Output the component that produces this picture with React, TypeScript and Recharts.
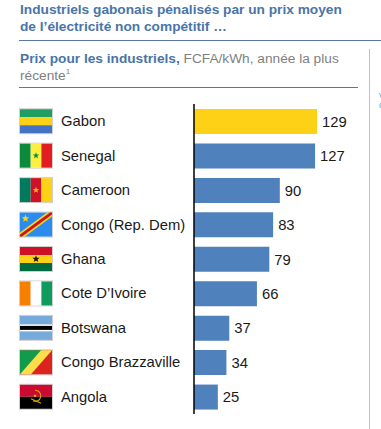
import React from "react";
import { BarChart, Bar, XAxis, YAxis, Cell, LabelList } from "recharts";

const countries = ["Gabon", "Senegal", "Cameroon", "Congo (Rep. Dem)", "Ghana", "Cote D’Ivoire", "Botswana", "Congo Brazzaville", "Angola"];
const prices = [129, 127, 90, 83, 79, 66, 37, 34, 25];
const highlighted = "Gabon";
const data = countries.map((country, i) => ({ country, price: prices[i] }));

const FONT = "'Liberation Sans', Arial, sans-serif";
const BLUE = "#4f81bd";
const HEAD = "#4a74a8";
const W = 32, H = 24;

const star = (cx: number, cy: number, r: number) => {
  const p: string[] = [];
  for (let i = 0; i < 10; i++) {
    const a = -Math.PI / 2 + (i * Math.PI) / 5;
    const q = i % 2 ? r * 0.42 : r;
    p.push(`${cx + q * Math.cos(a)},${cy + q * Math.sin(a)}`);
  }
  return p.join(" ");
};

function Flag({ name }: { name: string }) {
  const R = (x: number, y: number, w: number, h: number, fill: string) => <rect x={x} y={y} width={w} height={h} fill={fill} />;
  switch (name) {
    case "Gabon":
      return <>{R(0, 0, W, 8, "#1f9e62")}{R(0, 8, W, 8, "#fcd116")}{R(0, 16, W, 8, "#4472c4")}</>;
    case "Senegal":
      return <>{R(0, 0, 10.7, H, "#0b8a3c")}{R(10.7, 0, 10.7, H, "#fdef42")}{R(21.4, 0, 10.6, H, "#e31b23")}<polygon points={star(16, 12, 3.4)} fill="#0b8a3c" /></>;
    case "Cameroon":
      return <>{R(0, 0, 10.7, H, "#007a5e")}{R(10.7, 0, 10.7, H, "#ce1126")}{R(21.4, 0, 10.6, H, "#fcd116")}<polygon points={star(16, 12, 3.4)} fill="#fcb116" /></>;
    case "Congo (Rep. Dem)":
      return <>{R(0, 0, W, H, "#2b8cf0")}<polygon points="0,20 27,0 32,0 32,4 5,24 0,24" fill="#f7d618" /><polygon points="0,22 30,0 32,0 32,2 2,24 0,24" fill="#ce1021" /><polygon points={star(5.5, 6, 4)} fill="#f7d618" /></>;
    case "Ghana":
      return <>{R(0, 0, W, 8, "#ce1126")}{R(0, 8, W, 8, "#fcd116")}{R(0, 16, W, 8, "#006b3f")}<polygon points={star(16, 12, 3.8)} fill="#111" /></>;
    case "Cote D’Ivoire":
      return <>{R(0, 0, 10.7, H, "#f77f00")}{R(10.7, 0, 10.7, H, "#ffffff")}{R(21.4, 0, 10.6, H, "#0f9b5e")}</>;
    case "Botswana":
      return <>{R(0, 0, W, H, "#75aadb")}{R(0, 8.5, W, 7, "#ffffff")}{R(0, 10, W, 4, "#000000")}</>;
    case "Congo Brazzaville":
      return <>{R(0, 0, W, H, "#dc241f")}<polygon points="0,0 24,0 0,24" fill="#129b4a" /><polygon points="21,0 32,0 11,24 0,24" fill="#fbde4a" /></>;
    case "Angola":
      return <>{R(0, 0, W, 12, "#cc092f")}{R(0, 12, W, 12, "#000000")}<path d="M15 5.5 A5.5 5.5 0 1 1 13 16" fill="none" stroke="#d9a900" strokeWidth={1.1} /><polygon points={star(15, 11, 1.8)} fill="#ffcb00" /><line x1={11} y1={14} x2={21} y2={18.5} stroke="#d9a900" strokeWidth={1.1} /></>;
    default:
      return null;
  }
}

function CountryTick({ y, payload }: any) {
  return (
    <g>
      <g transform={`translate(20 ${y - 12})`}>
        <rect x={-0.5} y={-0.5} width={W + 1} height={H + 1} fill="none" stroke="#cfcfcf" />
        <Flag name={payload.value} />
      </g>
      <text x={61} y={y + 5} fontFamily={FONT} fontSize={14.8} fill="#1a1a1a">{payload.value}</text>
    </g>
  );
}

const abs = (s: React.CSSProperties): React.CSSProperties => ({ position: "absolute", fontFamily: FONT, ...s });

export default function App() {
  return (
    <div style={{ position: "absolute", left: 0, top: 0, width: 381, height: 429, background: "#fff", overflow: "hidden" }}>
      <div style={abs({ left: 20, top: 1, fontSize: 13.7, lineHeight: "17px", fontWeight: 700, color: HEAD, whiteSpace: "nowrap" })}>
        Industriels gabonais pénalisés par un prix moyen<br />de l’électricité non compétitif …
      </div>
      <div style={abs({ left: 19, top: 40, width: 362, height: 1, background: "#5b76a3" })} />
      <div style={abs({ left: 20, top: 50, fontSize: 13.7, lineHeight: "17px", color: "#7f7f7f", whiteSpace: "nowrap" })}>
        <span style={{ fontWeight: 700, color: HEAD }}>Prix pour les industriels,</span> FCFA/kWh, année la plus<br />récente<sup style={{ fontSize: 8, lineHeight: 0 }}>1</sup>
      </div>
      <div style={abs({ left: 19, top: 87, width: 339, height: 1, background: "#5b76a3" })} />
      <div style={abs({ left: 369, top: 49, width: 1, height: 380, background: "#b9c3d3" })} />
      <div style={abs({ left: 379, top: 90, fontSize: 9, lineHeight: "10px", color: "#6f93bd" })}>v<br />c</div>
      <div style={abs({ left: 0, top: 0 })}>
        <BarChart width={381} height={429} data={data} layout="vertical" margin={{ top: 104, right: 64, bottom: 15, left: 0 }} barSize={25}>
          <XAxis type="number" domain={[0, 129]} hide />
          <YAxis type="category" dataKey="country" width={194} interval={0} tick={<CountryTick />} tickLine={false} axisLine={{ stroke: "#000", strokeWidth: 1.5 }} />
          <Bar dataKey="price" isAnimationActive={false}>
            {data.map((d) => <Cell key={d.country} fill={d.country === highlighted ? "#fcd116" : BLUE} />)}
            <LabelList dataKey="price" position="right" offset={5} style={{ fontFamily: FONT, fontSize: 14.8, fill: "#1a1a1a" }} />
          </Bar>
        </BarChart>
      </div>
    </div>
  );
}
